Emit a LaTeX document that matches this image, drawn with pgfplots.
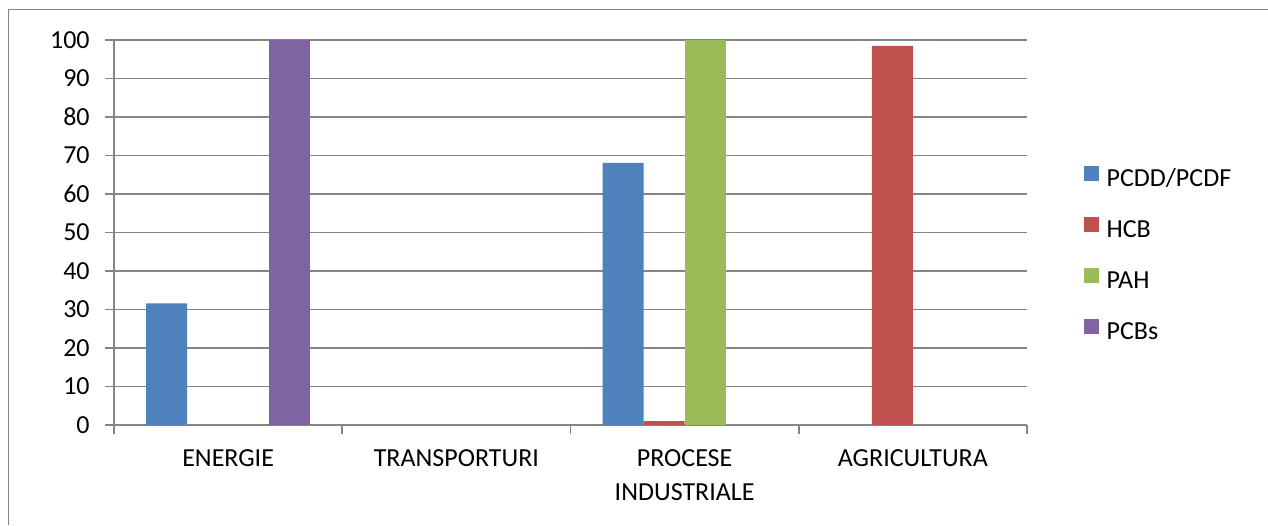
\documentclass[border=0pt]{standalone}
\usepackage{pgfplots}
\pgfplotsset{compat=1.18}
\usepackage{fontspec}
\setmainfont{Carlito}
\definecolor{cBlue}{HTML}{4F81BD}
\definecolor{cRed}{HTML}{C0504D}
\definecolor{cGreen}{HTML}{9BBB59}
\definecolor{cPurple}{HTML}{8064A2}
\definecolor{cGrid}{HTML}{858585}
\begin{document}
\begin{tikzpicture}
\useasboundingbox (0,0) rectangle (634pt,262.5pt);
\draw[cGrid, line width=0.9pt] (4.25pt,0pt) -- (4.25pt,257.75pt) -- (634pt,257.75pt);
\begin{axis}[
  at={(57pt,50pt)}, anchor=south west,
  scale only axis, width=456.5pt, height=192.5pt,
  xmin=-0.5, xmax=3.5, ymin=0, ymax=100,
  ybar=0pt, bar width=20.5pt,
  axis x line*=bottom, axis y line*=left,
  axis line style={cGrid, line width=0.9pt, -},
  ytick={0,10,...,100},
  ymajorgrids, grid style={cGrid, line width=0.9pt},
  tick align=outside, major tick length=4.25pt,
  tick style={cGrid, line width=0.9pt},
  xtick={-0.5,0.5,1.5,2.5,3.5}, xticklabels={},
  extra x ticks={0,1,2,3},
  extra x tick labels={ENERGIE,TRANSPORTURI,{PROCESE\\INDUSTRIALE},AGRICULTURA},
  extra x tick style={major tick length=0pt, grid=none,
     xticklabel style={align=center, font=\fontsize{13}{17}\selectfont, yshift=-9pt}},
  /pgf/number format/assume math mode=true,
  yticklabel style={font=\fontsize{13}{15}\selectfont, xshift=-4.4pt},
  every axis plot/.append style={draw=none,
     legend image code/.code={\fill[##1] (0pt,0pt) rectangle (7.5pt,7.5pt);}},
  legend style={draw=none, fill=none, inner sep=0pt, outer sep=0pt,
     at={(1.0624,0.44)}, anchor=west,
     font=\fontsize{13}{15}\selectfont,
     row sep=12.5pt, column sep=3.85pt,
     nodes={inner sep=0pt, text height=8pt, text depth=3pt}},
  legend cell align=left,
]
\addplot[fill=cBlue] coordinates {(0,31.6) (2,68.1)};
\addplot[fill=cRed] coordinates {(2,1.0) (3,98.5)};
\addplot[fill=cGreen] coordinates {(2,100)};
\addplot[fill=cPurple] coordinates {(0,100)};
\legend{PCDD/PCDF,HCB,PAH,PCBs}
\end{axis}
\end{tikzpicture}
\end{document}
